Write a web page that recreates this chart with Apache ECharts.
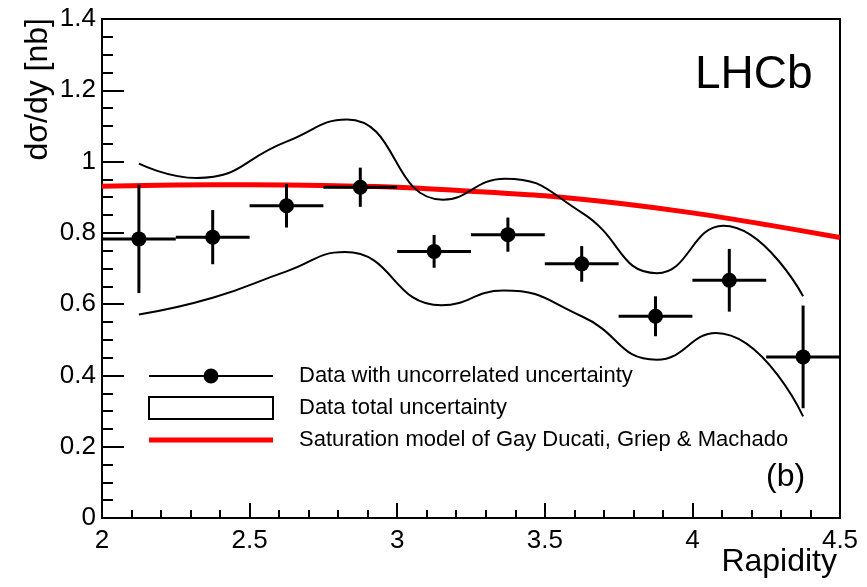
<!DOCTYPE html>
<html>
<head>
<meta charset="utf-8">
<script src="https://cdn.jsdelivr.net/npm/echarts@6/dist/echarts.min.js"></script>
<style>
  html, body { margin: 0; padding: 0; background: #fff; }
  #chart { width: 867px; height: 587px; }
</style>
</head>
<body>
<div id="chart"></div>
<script>
// bin centres (rapidity) and half bin width
const binCentres = [2.125, 2.375, 2.625, 2.875, 3.125, 3.375, 3.625, 3.875, 4.125, 4.375];
const binHalf = 0.125;
// measured dsigma/dy with uncorrelated uncertainty
const dataY = [0.783, 0.788, 0.876, 0.928, 0.748, 0.795, 0.713, 0.566, 0.667, 0.452];
const statErr = [0.152, 0.076, 0.061, 0.055, 0.046, 0.048, 0.050, 0.056, 0.088, 0.144];
// total uncertainty band (mostly their turning points)
const upperX = [2.125, 2.32, 2.625, 2.83, 3.155, 3.365, 3.625, 3.88, 4.105, 4.375];
const upperY = [0.994, 0.954, 1.056, 1.118, 0.893, 0.952, 0.857, 0.687, 0.820, 0.622];
const lowerX = [2.125, 2.375, 2.625, 2.823, 3.15, 3.36, 3.625, 3.879, 4.08, 4.375];
const lowerY = [0.571, 0.618, 0.692, 0.746, 0.597, 0.638, 0.566, 0.444, 0.519, 0.285];
// saturation model curve
const modelX = [2.0, 2.25, 2.5, 2.75, 3.0, 3.25, 3.5, 3.75, 4.0, 4.25, 4.5];
const modelY = [0.931, 0.934, 0.935, 0.933, 0.928, 0.917, 0.904, 0.883, 0.856, 0.823, 0.787];

const nameData = 'Data with uncorrelated uncertainty';
const nameBand = 'Data total uncertainty';
const nameModel = 'Saturation model of Gay Ducati, Griep & Machado';
const font = 'Liberation Sans';

const chart = echarts.init(document.getElementById('chart'));

const points = binCentres.map((x, i) => [x, dataY[i], statErr[i]]);

const option = {
  animation: false,
  backgroundColor: '#fff',
  grid: {
    left: 102, right: 27, top: 19, bottom: 69,
    show: true, borderColor: '#000', borderWidth: 2
  },
  xAxis: {
    type: 'value', min: 2, max: 4.5, interval: 0.5,
    axisLine: { lineStyle: { color: '#000', width: 2 } },
    axisTick: { inside: true, length: 15, lineStyle: { color: '#000', width: 2 } },
    minorTick: { show: true, splitNumber: 5, length: 8, lineStyle: { color: '#000', width: 2 } },
    splitLine: { show: false },
    axisLabel: { color: '#000', fontSize: 26, fontFamily: font, margin: 10, showMinLabel: true, showMaxLabel: true }
  },
  yAxis: {
    type: 'value', min: 0, max: 1.4, interval: 0.2,
    axisLine: { show: true, lineStyle: { color: '#000', width: 2 } },
    axisTick: { show: true, inside: true, length: 22, lineStyle: { color: '#000', width: 2 } },
    minorTick: { show: true, splitNumber: 4, length: 11, lineStyle: { color: '#000', width: 2 } },
    splitLine: { show: false },
    axisLabel: { color: '#000', fontSize: 26, fontFamily: font, margin: 6, showMinLabel: true, showMaxLabel: true }
  },
  legend: {
    orient: 'vertical', left: 143, top: 360,
    itemWidth: 124, itemHeight: 22, itemGap: 9,
    selectedMode: false,
    textStyle: { color: '#000', fontSize: 22, fontFamily: font, padding: [0, 0, 0, 21] },
    data: [
      {
        name: nameData,
        icon: 'path://M0,7.1L124,7.1L124,8.9L0,8.9Z M54.5,8A7.5,7.5 0 1 1 69.5,8A7.5,7.5 0 1 1 54.5,8Z',
        itemStyle: { color: '#000' }
      },
      {
        name: nameBand, icon: 'rect',
        itemStyle: { color: '#fff', borderColor: '#000', borderWidth: 2 }
      },
      {
        name: nameModel,
        icon: 'path://M0,0L124,0L124,5L0,5Z',
        itemStyle: { color: '#ff0000' }
      }
    ]
  },
  graphic: [
    { type: 'text', x: 695, y: 75, style: { text: 'LHCb', font: '46px ' + font, fill: '#000', textVerticalAlign: 'middle' } },
    { type: 'text', x: 766, y: 477, style: { text: '(b)', font: '32px ' + font, fill: '#000', textVerticalAlign: 'middle' } },
    { type: 'text', x: 837, y: 562, style: { text: 'Rapidity', font: '32px ' + font, fill: '#000', textAlign: 'right', textVerticalAlign: 'middle' } },
    { type: 'text', x: 38, y: 18, rotation: Math.PI / 2, style: { text: 'dσ/dy [nb]', font: '32px ' + font, fill: '#000', textAlign: 'right', textVerticalAlign: 'middle' } }
  ],
  series: [
    {
      name: nameModel, type: 'line', smooth: 0.3, symbol: 'none',
      color: '#ff0000',
      lineStyle: { color: '#ff0000', width: 5 },
      data: modelX.map((x, i) => [x, modelY[i]]),
      z: 2
    },
    {
      name: nameBand, type: 'line', smooth: 0.5, symbol: 'none',
      color: '#000',
      lineStyle: { color: '#000', width: 2 },
      data: upperX.map((x, i) => [x, upperY[i]]),
      z: 3
    },
    {
      name: nameBand, type: 'line', smooth: 0.5, symbol: 'none',
      color: '#000',
      lineStyle: { color: '#000', width: 2 },
      data: lowerX.map((x, i) => [x, lowerY[i]]),
      z: 3
    },
    {
      name: nameData, type: 'custom', color: '#000', z: 4,
      data: points,
      renderItem: function (params, api) {
        const x = api.value(0), y = api.value(1), e = api.value(2);
        const c = api.coord([x, y]);
        const l = api.coord([x - binHalf, y]);
        const r = api.coord([x + binHalf, y]);
        const t = api.coord([x, y + e]);
        const b = api.coord([x, y - e]);
        const st = { stroke: '#000', lineWidth: 3 };
        return {
          type: 'group',
          children: [
            { type: 'line', shape: { x1: l[0], y1: l[1], x2: r[0], y2: r[1] }, style: st },
            { type: 'line', shape: { x1: t[0], y1: t[1], x2: b[0], y2: b[1] }, style: st },
            { type: 'circle', shape: { cx: c[0], cy: c[1], r: 7.5 }, style: { fill: '#000' } }
          ]
        };
      }
    }
  ]
};

chart.setOption(option);
</script>
</body>
</html>
